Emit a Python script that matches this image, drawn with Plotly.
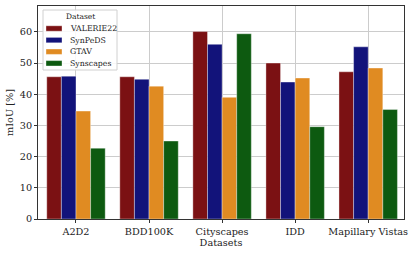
import plotly.graph_objects as go

categories = ["A2D2", "BDD100K", "Cityscapes", "IDD", "Mapillary Vistas"]
valerie22 = [45.6, 45.6, 60.1, 50.0, 47.2]
synpeds = [45.8, 44.8, 56.0, 43.9, 55.2]
gtav = [34.6, 42.6, 39.0, 45.2, 48.4]
synscapes = [22.7, 25.0, 59.4, 29.6, 35.1]

series = [
    ("VALERIE22", valerie22, "#7b1113"),
    ("SynPeDS", synpeds, "#12137a"),
    ("GTAV", gtav, "#e08b22"),
    ("Synscapes", synscapes, "#0d5a10"),
]

W, H = 415, 256
L, R, T, B = 38, 11, 6, 37
PW, PH = W - L - R, H - T - B

def px(x):
    return (x - L) / PW

def py(y):
    return (H - B - y) / PH

font = "DejaVu Serif"
fig = go.Figure()
for name, vals, col in series:
    fig.add_trace(go.Bar(
        x=categories, y=vals, name=name, showlegend=False,
        marker=dict(color=col, line=dict(color="rgba(255,255,255,0.45)", width=0.8)),
    ))

# custom compact legend (matplotlib style)
shapes = [dict(type="rect", xref="paper", yref="paper", x0=px(43), x1=px(117), y0=py(70), y1=py(10),
               line=dict(color="#d0d0d0", width=1), fillcolor="rgba(255,255,255,0.85)", layer="above")]
annotations = [dict(text="Dataset", xref="paper", yref="paper", x=px(80), y=py(17), showarrow=False,
                    xanchor="center", yanchor="middle", font=dict(family=font, size=7.5, color="#222"))]
for i, (name, vals, col) in enumerate(series):
    yc = 28.5 + i * 11.6
    shapes.append(dict(type="rect", xref="paper", yref="paper", x0=px(46), x1=px(62),
                       y0=py(yc + 2.7), y1=py(yc - 2.7), fillcolor=col,
                       line=dict(color="rgba(255,255,255,0.45)", width=0.8), layer="above"))
    annotations.append(dict(text=name, xref="paper", yref="paper", x=px(67.5), y=py(yc), showarrow=False,
                            xanchor="left", yanchor="middle", font=dict(family=font, size=7.8, color="#222")))

fig.update_layout(
    width=W, height=H,
    margin=dict(l=L, r=R, t=T, b=B, autoexpand=False),
    paper_bgcolor="white", plot_bgcolor="white",
    barmode="group", bargap=0.2, bargroupgap=0,
    font=dict(family=font, size=9.7, color="#222"),
    showlegend=False,
    shapes=shapes, annotations=annotations,
    xaxis=dict(
        title=dict(text="Datasets", standoff=3, font=dict(size=9.7)),
        tickfont=dict(size=9.7),
        showgrid=True, gridcolor="#cccccc", gridwidth=1,
        showline=True, linecolor="#333", linewidth=1, mirror=True,
        ticks="outside", ticklen=3, tickcolor="#333",
        range=[-0.52, 4.49],
    ),
    yaxis=dict(
        title=dict(text="mIoU [%]", standoff=4, font=dict(size=9.7)),
        tickfont=dict(size=9.7),
        range=[0, 68.3], dtick=10,
        showgrid=True, gridcolor="#cccccc", gridwidth=1,
        showline=True, linecolor="#333", linewidth=1, mirror=True,
        ticks="outside", ticklen=3, tickcolor="#333",
        zeroline=False,
    ),
)

fig.write_html("out.html", config={"displayModeBar": False},
               post_script="document.body.style.margin='0';")
